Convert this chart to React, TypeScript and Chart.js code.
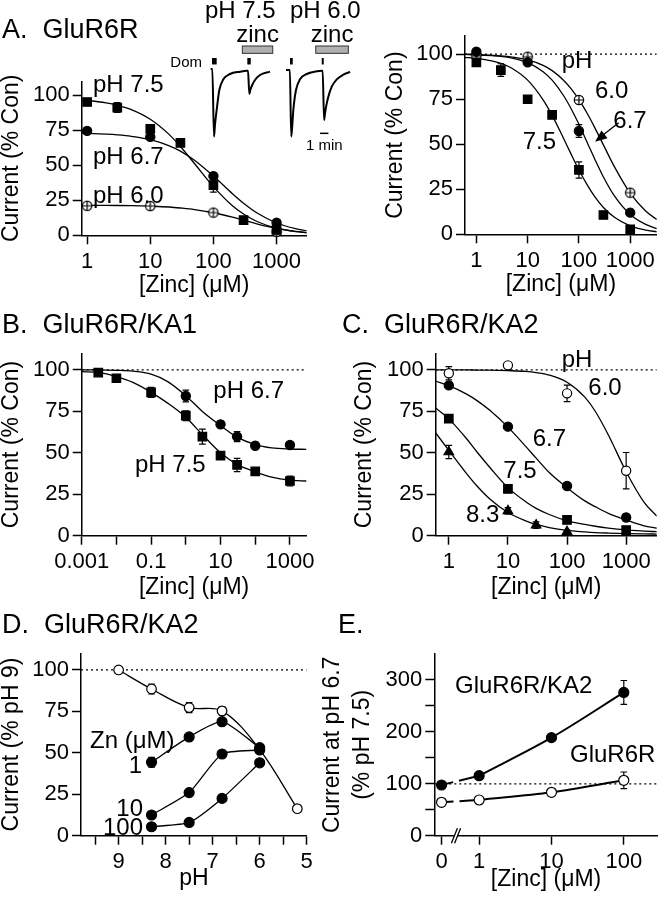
import React, { useEffect, useRef } from "react";
import { Chart, registerables } from "chart.js";

Chart.register(...registerables);

const FONT = '"Liberation Sans", Arial, Helvetica, sans-serif';
const PAGE_W = 664;
const PAGE_H = 899;

/* ================= DATA ================= */

// ---- Panel A (left): GluR6R, % control vs [Zinc] (uM) ----
const aZinc75 = [1, 3, 10, 30, 100, 300, 1000];
const aCur75 = [95.2, 91.2, 76, 66, 35.9, 10.9, 3.8];
const aErr75 = [1.5, 3.5, 2.5, 1.5, 5, 1, 1];
const aZinc67 = [1, 10, 100, 1000];
const aCur67 = [74.6, 70.3, 42.3, 9];
const aErr67 = [1, 2, 2.5, 1];
const aZinc60 = [1, 10, 100, 1000];
const aCur60 = [21.1, 20.9, 16.2, 2.6];
const aFitZinc = [0.82, 1, 2, 3, 5, 10, 20, 30, 50, 100, 200, 300, 500, 1000, 2000, 3000];
const aFit75 = [96.6, 96.3, 94.6, 92.9, 89.8, 82.9, 71.9, 63.4, 51.3, 34.8, 21.1, 15.2, 9.7, 5.1, 2.6, 1.8];
const aFit67 = [72.9, 72.8, 72.2, 71.7, 70.7, 68.3, 63.9, 60.1, 53.6, 42.3, 29.7, 22.9, 15.7, 8.8, 4.7, 3.2];
const aFit60 = [21.44, 21.43, 21.36, 21.29, 21.15, 20.8, 20.2, 19.5, 18.4, 16.1, 12.9, 10.75, 8.06, 4.96, 2.8, 1.95];

// ---- Panel A (right): GluR6R, normalised ----
const arZinc75 = [1, 3, 10, 30, 100, 300, 1000];
const arCur75 = [95.4, 91.1, 74.9, 66.2, 35.7, 10.7, 2.8];
const arErr75 = [1, 3.5, 1.5, 1, 4.5, 1, 1];
const arZinc67 = [1, 10, 100, 1000];
const arCur67 = [101.3, 95.4, 57.3, 12];
const arErr67 = [1, 1.5, 3.5, 1];
const arZinc60 = [1, 10, 100, 1000];
const arCur60 = [99, 98.5, 74.5, 23.1];
const arFitZinc = [0.6, 1, 2, 3, 5, 10, 20, 30, 50, 70, 100, 150, 200, 300, 500, 1000, 2000, 3300];
const arFit75 = [98.2, 97.6, 96.2, 94.8, 92.0, 85.5, 74.6, 66.0, 53.3, 44.6, 35.7, 26.7, 21.2, 14.9, 9.3, 4.7, 2.35, 1.4];
const arFit67 = [99.8, 99.6, 99.1, 98.7, 97.7, 95.2, 90.2, 85.5, 77.0, 69.8, 61.0, 50, 42.2, 31.8, 21.0, 11.0, 5.5, 3.2];
const arFit60 = [99.8, 99.7, 99.3, 99.0, 98.3, 96.7, 93.7, 90.8, 85.5, 80.8, 74.7, 66.3, 59.6, 49.6, 37.1, 22.8, 12.9, 8.2];

// ---- Panel B: GluR6R/KA1 ----
const bZinc75 = [0.003, 0.01, 0.1, 1, 3, 10, 30, 100, 1000];
const bCur75 = [98.4, 95, 86.5, 72.4, 59.8, 48.3, 42.7, 38.8, 33];
const bErr75 = [1.5, 1.5, 3, 3, 4.5, 2, 4, 1.5, 3];
const bZinc67 = [1, 10, 30, 100, 1000];
const bCur67 = [84.3, 67.2, 59.8, 54.3, 54.7];
const bErr67 = [3.5, 2, 3, 1.5, 1.5];
const bFitZinc = [0.001, 0.003, 0.01, 0.03, 0.1, 0.3, 1, 3, 10, 30, 100, 300, 1000, 3000];
const bFit75 = [99, 98.5, 96, 92.5, 86.5, 80, 71.5, 61, 50, 43, 38.5, 35.3, 33.5, 33];
const bFit67 = [100, 100, 99.8, 99.3, 97.5, 93, 84.5, 75, 66.5, 59.5, 55, 53, 52.3, 52.1];

// ---- Panel C: GluR6R/KA2 ----
const cZinc60 = [1, 10, 100, 1000];
const cCur60 = [98, 102.8, 85.9, 39.2];
const cErr60 = [4, 1.5, 5, 11];
const cZinc67 = [1, 10, 100, 1000];
const cCur67 = [90.7, 65.8, 30, 11];
const cErr67 = [1, 1, 1, 2];
const cZinc75 = [1, 10, 100, 1000];
const cCur75 = [70.6, 28.2, 9.5, 3.4];
const cErr75 = [1.5, 1, 1, 1];
const cZinc83 = [1, 10, 30, 100];
const cCur83 = [50.5, 15, 6.4, 2.4];
const cErr83 = [4, 2, 2, 1];
const cFitZinc = [0.6, 1, 2, 3, 5, 10, 20, 30, 50, 100, 200, 300, 500, 1000, 2000, 3300];
const cFit60 = [100, 100, 100, 99.95, 99.9, 99.6, 99.1, 98.4, 96.9, 92.6, 83.6, 75.1, 60.8, 38.6, 20.3, 11.8];
const cFit67 = [93.2, 90.5, 85.4, 81.5, 75.5, 65.5, 53.9, 46.8, 38.1, 29, 21, 17.5, 13.5, 9.5, 6, 4.5];
const cFit75 = [77, 70.5, 58.5, 50.5, 41, 29, 20.5, 16.5, 12.8, 9, 6.8, 5.7, 4.6, 3.5, 2.8, 2.4];
const cFit83 = [62, 51.5, 37.5, 30, 22, 14, 9, 6.8, 4.9, 3.2, 2.3, 1.9, 1.6, 1.3, 1.1, 1];

// ---- Panel D: GluR6R/KA2, current (% pH 9) vs pH ----
const dPhCtl = [9, 8.3, 7.5, 6.8, 6.0, 5.2];
const dCurCtl = [100, 88.5, 77.3, 75.3, 52, 16.3];
const dErrCtl = [0, 3, 3, 2.5, 0, 0];
const dPhZn = [8.3, 7.5, 6.8, 6.0];
const dCurZn1 = [44.3, 59.6, 68.8, 53.1];
const dErrZn1 = [3, 2, 1.5, 1.5];
const dCurZn10 = [12.5, 26, 49.3, 51.7];
const dCurZn100 = [5.4, 8, 22.5, 44];

// ---- Panel E: current at pH 6.7 (% pH 7.5) vs [Zinc] ----
const eZinc = [0, 1, 10, 100];
const eKA2 = [97.7, 115.6, 188.9, 276];
const eKA2Err = [3, 3, 3, 23];
const eR6 = [64.3, 68.8, 83.6, 106.7];
const eR6Err = [2, 2, 2, 16];
const eZeroPos = -0.52; // where "0" sits on the broken log axis (log10 units)
const eBreakPos = -0.32;

// ---- Tick lists ----
const decadeTicks = [1, 10, 100, 1000];
const bXTicks = [0.001, 0.01, 0.1, 1, 10, 100, 1000];
const bXLabeled = [0.001, 0.1, 10, 1000];
const pctTicks = [0, 25, 50, 75, 100];
const dXTicks = [5, 5.5, 6, 6.5, 7, 7.5, 8, 8.5, 9, 9.5];
const eXTickLabels = ["0", "1", "10", "100"];
const eYTicks = [0, 50, 100, 150, 200, 250, 300];
const eYLabeled = [0, 100, 200, 300];

// ---- Inset current traces (time in min, current normalised to first peak) ----
const trace75T = [1.28, 1.48, 1.68, 1.8, 2.0, 2.32, 2.8, 3.6, 4.8, 5.61, 5.76, 5.92, 6.04, 6.21, 6.6, 7.2, 8.4];
const trace75I = [0.015, 0.015, -1.0, -0.82, -0.6, -0.3, -0.14, -0.06, -0.025, -0.01, -0.01, -0.36, -0.3, -0.24, -0.15, -0.075, -0.025];
const trace60T = [10.32, 10.78, 10.95, 11.08, 11.2, 11.52, 12.0, 12.81, 14.01, 14.61, 14.72, 14.89, 15.01, 15.13, 15.4, 15.81, 16.41, 17.2, 18.01];
const trace60I = [0, 0, -1.0, -0.82, -0.6, -0.3, -0.14, -0.06, -0.02, -0.01, -0.01, -0.75, -0.645, -0.55, -0.4, -0.25, -0.14, -0.07, -0.03];
const domStarts = [1.44, 5.68, 10.8, 14.61];
const domEnds = [2.0, 6.09, 11.13, 14.85];
const zincStarts = [5.08, 13.89];
const zincEnds = [8.73, 17.8];
const scaleBarMin = [14.41, 15.41];

/* ================= HELPERS ================= */

type P = { x: number; y: number };
const pts = (xs: number[], ys: number[]): P[] => xs.map((x, i) => ({ x, y: ys[i] }));

function makeCrossRing(r: number): HTMLCanvasElement {
  const s = Math.ceil(r * 2 + 4);
  const c = document.createElement("canvas");
  c.width = s;
  c.height = s;
  const g = c.getContext("2d")!;
  const m = s / 2;
  g.beginPath();
  g.arc(m, m, r, 0, Math.PI * 2);
  g.fillStyle = "#fff";
  g.fill();
  g.lineWidth = 1.2;
  g.strokeStyle = "#000";
  g.stroke();
  g.beginPath();
  g.moveTo(m - r, m);
  g.lineTo(m + r, m);
  g.moveTo(m, m - r);
  g.lineTo(m, m + r);
  g.stroke();
  return c;
}

const errorBars = {
  id: "errorBars",
  beforeDatasetsDraw(chart: any) {
    const ctx = chart.ctx;
    const ys = chart.scales.y;
    chart.data.datasets.forEach((ds: any, i: number) => {
      if (!ds.errors) return;
      const meta = chart.getDatasetMeta(i);
      ctx.save();
      ctx.strokeStyle = "#000";
      ctx.lineWidth = 1.2;
      meta.data.forEach((el: any, j: number) => {
        const e = ds.errors[j];
        if (!e) return;
        const v = ds.data[j].y;
        const y1 = ys.getPixelForValue(v + e);
        const y2 = ys.getPixelForValue(v - e);
        const x = el.x;
        const cw = 3.3;
        ctx.beginPath();
        ctx.moveTo(x, y1);
        ctx.lineTo(x, y2);
        ctx.moveTo(x - cw, y1);
        ctx.lineTo(x + cw, y1);
        ctx.moveTo(x - cw, y2);
        ctx.lineTo(x + cw, y2);
        ctx.stroke();
      });
      ctx.restore();
    });
  },
};

function txt(ctx: CanvasRenderingContext2D, s: string, x: number, y: number, size = 24, align: CanvasTextAlign = "left") {
  ctx.save();
  ctx.font = `${size}px ${FONT}`;
  ctx.fillStyle = "#000";
  ctx.textAlign = align;
  ctx.textBaseline = "alphabetic";
  ctx.fillText(s, x, y);
  ctx.restore();
}

const marker = (data: P[], style: any, r: number, fill: string, errs?: number[], order = 0) => ({
  data,
  showLine: false,
  pointStyle: style,
  pointRadius: r,
  pointBackgroundColor: fill,
  pointBorderColor: "#000",
  pointBorderWidth: 1.2,
  errors: errs,
  order,
  clip: false,
});

const curve = (data: P[], w = 1.3, extra: any = {}) => ({
  data,
  showLine: true,
  borderColor: "#000",
  borderWidth: w,
  pointRadius: 0,
  cubicInterpolationMode: "monotone",
  fill: false,
  order: 1,
  ...extra,
});

const dotted = (x0: number, x1: number, y: number) => ({
  data: [
    { x: x0, y },
    { x: x1, y },
  ],
  showLine: true,
  borderColor: "#000",
  borderWidth: 1.2,
  borderDash: [2, 3],
  pointRadius: 0,
  order: 3,
});

const gridOpts = { drawOnChartArea: false, drawTicks: true, tickLength: 9, tickColor: "#000", tickWidth: 1.5 };
const borderOpts = { display: true, color: "#000", width: 1.5 };
const tickFont = { family: FONT, size: 22 };

function xAxis(o: {
  type: string;
  min: number;
  max: number;
  ticks: number[];
  label: (v: number, i: number) => string;
  title: string;
  height: number;
  reverse?: boolean;
}) {
  return {
    type: o.type,
    min: o.min,
    max: o.max,
    reverse: !!o.reverse,
    position: "bottom",
    afterBuildTicks: (s: any) => {
      s.ticks = o.ticks.map((v) => ({ value: v }));
    },
    afterFit: (s: any) => {
      s.height = o.height;
    },
    ticks: {
      font: tickFont,
      color: "#000",
      padding: 4,
      maxRotation: 0,
      minRotation: 0,
      autoSkip: false,
      callback: (v: any, i: number) => o.label(Number(v), i),
    },
    grid: gridOpts,
    border: borderOpts,
    title: { display: true, text: o.title, color: "#000", font: { family: FONT, size: 23 }, padding: { top: 0, bottom: 0 } },
  };
}

function yAxis(o: {
  max: number;
  ticks: number[];
  labeled: number[];
  title: string | string[];
  width: number;
  titlePad: number;
  lineHeight?: number;
}) {
  return {
    type: "linear",
    min: 0,
    max: o.max,
    position: "left",
    afterBuildTicks: (s: any) => {
      s.ticks = o.ticks.map((v) => ({ value: v }));
    },
    afterFit: (s: any) => {
      s.width = o.width;
    },
    ticks: {
      font: tickFont,
      color: "#000",
      padding: 3,
      callback: (v: any) => (o.labeled.includes(Number(v)) ? String(v) : ""),
    },
    grid: gridOpts,
    border: borderOpts,
    title: {
      display: true,
      text: o.title,
      color: "#000",
      font: { family: FONT, size: 23, lineHeight: o.lineHeight ?? 1.2 },
      padding: { top: o.titlePad, bottom: 0 },
    },
  };
}

const near = (list: number[], v: number) => list.some((l) => Math.abs(l - v) <= Math.abs(l) * 1e-6);

function panel(
  canvas: HTMLCanvasElement,
  area: { l: number; r: number; t: number; b: number },
  yw: number,
  xh: number,
  x: any,
  y: any,
  datasets: any[],
  draw: (chart: any, ctx: CanvasRenderingContext2D) => void
) {
  return new Chart(canvas as any, {
    type: "scatter",
    data: { datasets },
    options: {
      responsive: false,
      maintainAspectRatio: false,
      animation: false,
      devicePixelRatio: 1,
      events: [],
      layout: {
        padding: { left: area.l - yw, right: PAGE_W - area.r, top: area.t, bottom: PAGE_H - area.b - xh },
      },
      plugins: { legend: { display: false }, tooltip: { enabled: false } },
      scales: { x, y },
    } as any,
    plugins: [errorBars, { id: "annot", afterDraw: (c: any) => draw(c, c.ctx) }] as any,
  });
}

/* ================= CHARTS ================= */

function makeAll(cv: HTMLCanvasElement[]): Chart[] {
  const crossRing = makeCrossRing(4.7);
  const charts: Chart[] = [];
  const decadeLabel = (v: number) => (near(decadeTicks, v) ? String(v) : "");

  // Panel A left
  charts.push(
    panel(
      cv[0],
      { l: 81.7, r: 306.7, t: 81.3, b: 235.3 },
      81.7,
      64,
      xAxis({ type: "logarithmic", min: 0.82, max: 3000, ticks: decadeTicks, label: decadeLabel, title: "[Zinc] (\u03bcM)", height: 64 }),
      yAxis({ max: 110, ticks: pctTicks, labeled: pctTicks, title: "Current (% Con)", width: 81.7, titlePad: -2 }),
      [
        marker(pts(aZinc67, aCur67), "circle", 4.6, "#000", aErr67),
        marker(pts(aZinc75, aCur75), "rect", 6, "#000", aErr75),
        marker(pts(aZinc60, aCur60), crossRing, 5, "#fff"),
        curve(pts(aFitZinc, aFit75)),
        curve(pts(aFitZinc, aFit67)),
        curve(pts(aFitZinc, aFit60)),
      ],
      (_c, ctx) => {
        txt(ctx, "A.  GluR6R", 2, 38, 27);
        txt(ctx, "pH 7.5", 93, 91.7);
        txt(ctx, "pH 6.7", 93, 164.3);
        txt(ctx, "pH 6.0", 93, 203.3);
      }
    )
  );

  // Panel A right
  charts.push(
    panel(
      cv[1],
      { l: 465, r: 663.6, t: 36, b: 234.3 },
      83,
      64,
      xAxis({ type: "logarithmic", min: 0.6, max: 3300, ticks: decadeTicks, label: decadeLabel, title: "[Zinc] (\u03bcM)", height: 64 }),
      yAxis({ max: 110, ticks: pctTicks, labeled: pctTicks, title: "Current (% Con)", width: 83, titlePad: 0 }),
      [
        marker(pts(arZinc67, arCur67), "circle", 4.6, "#000", arErr67),
        marker(pts(arZinc75, arCur75), "rect", 6, "#000", arErr75),
        marker(pts(arZinc60, arCur60), crossRing, 5, "#fff", undefined, 0.5),
        curve(pts(arFitZinc, arFit75)),
        curve(pts(arFitZinc, arFit67)),
        curve(pts(arFitZinc, arFit60)),
        dotted(0.6, 3300, 100),
      ],
      (_c, ctx) => {
        txt(ctx, "pH", 561.7, 68.3);
        txt(ctx, "6.0", 595, 98.3);
        txt(ctx, "6.7", 613.3, 127.7);
        txt(ctx, "7.5", 522.7, 149.3);
        // arrow pointing to the pH 6.7 curve
        ctx.save();
        ctx.strokeStyle = "#000";
        ctx.fillStyle = "#000";
        ctx.lineWidth = 1.3;
        ctx.beginPath();
        ctx.moveTo(618.7, 122.7);
        ctx.lineTo(603, 135);
        ctx.stroke();
        ctx.beginPath();
        ctx.moveTo(595, 141.7);
        ctx.lineTo(601.5, 130.5);
        ctx.lineTo(607.5, 138.2);
        ctx.closePath();
        ctx.fill();
        ctx.restore();
      }
    )
  );

  // Panel B
  charts.push(
    panel(
      cv[2],
      { l: 81.7, r: 306.5, t: 353.4, b: 535.7 },
      81.7,
      66,
      xAxis({
        type: "logarithmic",
        min: 0.001,
        max: 3000,
        ticks: bXTicks,
        label: (v) => (near(bXLabeled, v) ? String(v) : ""),
        title: "[Zinc] (\u03bcM)",
        height: 66,
      }),
      yAxis({ max: 110, ticks: pctTicks, labeled: pctTicks, title: "Current (% Con)", width: 81.7, titlePad: -2 }),
      [
        marker(pts(bZinc67, bCur67), "circle", 4.6, "#000", bErr67),
        marker(pts(bZinc75, bCur75), "rect", 6, "#000", bErr75),
        curve(pts(bFitZinc, bFit75)),
        curve(pts(bFitZinc, bFit67)),
        dotted(0.001, 3000, 100),
      ],
      (_c, ctx) => {
        txt(ctx, "B.  GluR6R/KA1", 2, 333.3, 27);
        txt(ctx, "pH 6.7", 213.3, 398.3);
        txt(ctx, "pH 7.5", 135, 471.7);
      }
    )
  );

  // Panel C
  charts.push(
    panel(
      cv[3],
      { l: 435.7, r: 663.5, t: 353.4, b: 535.7 },
      84.5,
      66,
      xAxis({ type: "logarithmic", min: 0.6, max: 3300, ticks: decadeTicks, label: decadeLabel, title: "[Zinc] (\u03bcM)", height: 66 }),
      yAxis({ max: 110, ticks: pctTicks, labeled: pctTicks, title: "Current (% Con)", width: 84.5, titlePad: 0 }),
      [
        marker(pts(cZinc67, cCur67), "circle", 4.6, "#000", cErr67),
        marker(pts(cZinc75, cCur75), "rect", 6, "#000", cErr75),
        marker(pts(cZinc83, cCur83), "triangle", 5.5, "#000", cErr83),
        marker(pts(cZinc60, cCur60), "circle", 4.6, "#fff", cErr60, 0.5),
        curve(pts(cFitZinc, cFit60)),
        curve(pts(cFitZinc, cFit67)),
        curve(pts(cFitZinc, cFit75)),
        curve(pts(cFitZinc, cFit83)),
        dotted(0.6, 3300, 100),
      ],
      (_c, ctx) => {
        txt(ctx, "C.  GluR6R/KA2", 342, 333.3, 27);
        txt(ctx, "pH", 561.7, 366.7);
        txt(ctx, "6.0", 588.3, 395);
        txt(ctx, "6.7", 532.7, 445.7);
        txt(ctx, "7.5", 503.3, 478.3);
        txt(ctx, "8.3", 466, 521.7);
      }
    )
  );

  // Panel D
  charts.push(
    panel(
      cv[4],
      { l: 81, r: 306.7, t: 653.4, b: 835.7 },
      81,
      57,
      xAxis({
        type: "linear",
        min: 5,
        max: 9.8,
        reverse: true,
        ticks: dXTicks,
        label: (v) => (Number.isInteger(v) ? String(v) : ""),
        title: "pH",
        height: 57,
      }),
      yAxis({ max: 110, ticks: pctTicks, labeled: pctTicks, title: "Current (% pH 9)", width: 81, titlePad: -2 }),
      [
        marker(pts(dPhZn, dCurZn1), "circle", 5, "#000", dErrZn1),
        marker(pts(dPhZn, dCurZn10), "circle", 5, "#000"),
        marker(pts(dPhZn, dCurZn100), "circle", 5, "#000"),
        marker(pts(dPhCtl, dCurCtl), "circle", 4.8, "#fff", dErrCtl, 0.5),
        curve(pts(dPhCtl, dCurCtl), 1.3, { cubicInterpolationMode: "default", tension: 0.35 }),
        curve(pts(dPhZn, dCurZn1), 1.3, { cubicInterpolationMode: "default", tension: 0.2 }),
        curve(pts(dPhZn, dCurZn10), 1.3, { cubicInterpolationMode: "default", tension: 0.2 }),
        curve(pts(dPhZn, dCurZn100), 1.3, { cubicInterpolationMode: "default", tension: 0.2 }),
        dotted(9.8, 5, 100),
      ],
      (_c, ctx) => {
        txt(ctx, "D.  GluR6R/KA2", 2, 633.3, 27);
        txt(ctx, "Zn (\u03bcM)", 90, 748.3);
        txt(ctx, "1", 142, 773.3, 24, "right");
        txt(ctx, "10", 143, 816, 24, "right");
        txt(ctx, "100", 143, 835, 24, "right");
      }
    )
  );

  // Panel E
  const ePos = (z: number) => (z === 0 ? eZeroPos : Math.log10(z));
  const eX = eZinc.map(ePos);
  charts.push(
    panel(
      cv[5],
      { l: 434.3, r: 658, t: 654, b: 835.7 },
      116.3,
      58,
      xAxis({
        type: "linear",
        min: -0.62,
        max: 2.47,
        ticks: eX,
        label: (_v, i) => eXTickLabels[i] ?? "",
        title: "[Zinc] (\u03bcM)",
        height: 58,
      }),
      yAxis({
        max: 350,
        ticks: eYTicks,
        labeled: eYLabeled,
        title: ["Current at pH 6.7", "(% pH 7.5)"],
        width: 116.3,
        titlePad: 0,
        lineHeight: 1.3,
      }),
      [
        marker(pts(eX, eKA2), "circle", 5, "#000", eKA2Err),
        marker(pts(eX, eR6), "circle", 5, "#fff", eR6Err, 0.5),
        curve(pts(eX.slice(1), eKA2.slice(1)), 2),
        curve(pts(eX.slice(1), eR6.slice(1)), 2),
        curve(pts(eX.slice(0, 2), eKA2.slice(0, 2)), 2, { borderDash: [12, 6, 100] }),
        curve(pts(eX.slice(0, 2), eR6.slice(0, 2)), 2, { borderDash: [12, 6, 100] }),
        dotted(-0.62, 2.47, 100),
      ],
      (c, ctx) => {
        txt(ctx, "E.", 338, 633.3, 27);
        txt(ctx, "GluR6R/KA2", 455, 693.3);
        txt(ctx, "GluR6R", 570, 761.7);
        // axis break marks
        const px = c.scales.x.getPixelForValue(eBreakPos);
        const yb = c.chartArea.bottom;
        ctx.save();
        ctx.fillStyle = "#fff";
        ctx.fillRect(px - 1.5, yb - 2, 3, 4);
        ctx.strokeStyle = "#000";
        ctx.lineWidth = 1.3;
        ctx.beginPath();
        ctx.moveTo(px - 4.6, yb + 7.5);
        ctx.lineTo(px + 1.4, yb - 7.5);
        ctx.moveTo(px - 1.4, yb + 7.5);
        ctx.lineTo(px + 4.6, yb - 7.5);
        ctx.stroke();
        ctx.restore();
      }
    )
  );

  // Inset traces
  charts.push(
    new Chart(cv[6] as any, {
      type: "scatter",
      data: {
        datasets: [
          { data: pts(trace75T, trace75I), showLine: true, borderColor: "#000", borderWidth: 2, pointRadius: 0, cubicInterpolationMode: "monotone", clip: false },
          { data: pts(trace60T, trace60I), showLine: true, borderColor: "#000", borderWidth: 2, pointRadius: 0, cubicInterpolationMode: "monotone", clip: false },
        ],
      },
      options: {
        responsive: false,
        maintainAspectRatio: false,
        animation: false,
        devicePixelRatio: 1,
        events: [],
        layout: { padding: { left: 200, right: PAGE_W - 360, top: 40, bottom: PAGE_H - 150 } },
        plugins: { legend: { display: false }, tooltip: { enabled: false } },
        scales: {
          x: { type: "linear", display: false, min: 0, max: 19.2 },
          y: { type: "linear", display: false, min: -1.2, max: 0.45 },
        },
      } as any,
      plugins: [
        {
          id: "traceAnnot",
          afterDraw: (c: any) => {
            const ctx: CanvasRenderingContext2D = c.ctx;
            const xs = c.scales.x;
            const ys = c.scales.y;
            ctx.save();
            ctx.fillStyle = "#000";
            domStarts.forEach((t0, i) => {
              const x0 = xs.getPixelForValue(t0);
              const x1 = xs.getPixelForValue(domEnds[i]);
              const y0 = ys.getPixelForValue(0.18);
              const y1 = ys.getPixelForValue(0.083);
              ctx.fillRect(x0, y0, x1 - x0, y1 - y0);
            });
            zincStarts.forEach((t0, i) => {
              const x0 = xs.getPixelForValue(t0);
              const x1 = xs.getPixelForValue(zincEnds[i]);
              const y0 = ys.getPixelForValue(0.36);
              const y1 = ys.getPixelForValue(0.25);
              ctx.fillStyle = "#b0b0b0";
              ctx.fillRect(x0, y0, x1 - x0, y1 - y0);
              ctx.strokeStyle = "#333";
              ctx.lineWidth = 1;
              ctx.strokeRect(x0, y0, x1 - x0, y1 - y0);
              txt(ctx, "zinc", (x0 + x1) / 2, 41.7, 24, "center");
            });
            const sx0 = xs.getPixelForValue(scaleBarMin[0]);
            const sx1 = xs.getPixelForValue(scaleBarMin[1]);
            const sy = ys.getPixelForValue(-0.95);
            ctx.strokeStyle = "#000";
            ctx.lineWidth = 1.5;
            ctx.beginPath();
            ctx.moveTo(sx0, sy);
            ctx.lineTo(sx1, sy);
            ctx.stroke();
            ctx.restore();
            txt(ctx, "1 min", (sx0 + sx1) / 2, 150, 15, "center");
            txt(ctx, "Dom", 202, 66.5, 15, "right");
            txt(ctx, "pH 7.5", 205, 18.3);
            txt(ctx, "pH 6.0", 290, 18.3);
          },
        },
      ] as any,
    })
  );

  return charts;
}

export default function App() {
  const refs = useRef<(HTMLCanvasElement | null)[]>([]);
  useEffect(() => {
    const charts = makeAll(refs.current as HTMLCanvasElement[]);
    return () => charts.forEach((c) => c.destroy());
  }, []);
  return (
    <div
      style={{
        position: "absolute",
        left: 0,
        top: 0,
        width: PAGE_W,
        height: PAGE_H,
        background: "#fff",
        overflow: "hidden",
      }}
    >
      {Array.from({ length: 7 }).map((_, i) => (
        <canvas
          key={i}
          ref={(el) => {
            refs.current[i] = el;
          }}
          width={PAGE_W}
          height={PAGE_H}
          style={{ position: "absolute", left: 0, top: 0 }}
        />
      ))}
    </div>
  );
}
